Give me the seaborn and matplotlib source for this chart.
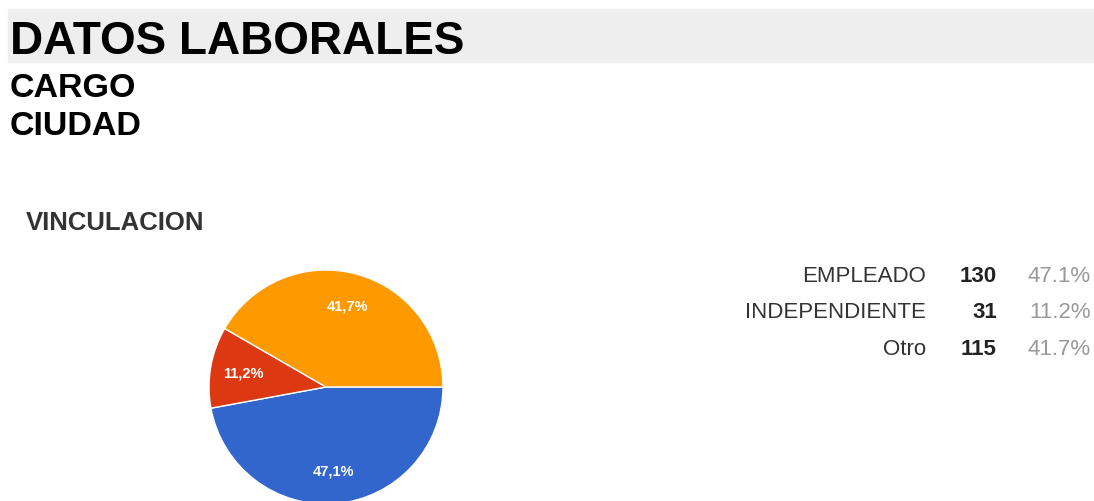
import matplotlib
matplotlib.use("Agg")
import matplotlib.pyplot as plt
import seaborn as sns
from matplotlib.patches import Rectangle

# datos del grafico
categorias = ["EMPLEADO", "INDEPENDIENTE", "Otro"]
cantidades = [130, 31, 115]
porcentajes = ["47.1%", "11.2%", "41.7%"]
colores = ["#3366cc", "#dc3912", "#ff9900"]

titulo = "DATOS LABORALES"
subtitulos = ["CARGO", "CIUDAD"]
pregunta = "VINCULACION"

sns.set_theme(style="white")
plt.rcParams['font.family'] = ['Liberation Sans', 'DejaVu Sans']

W, H = 1094, 502
fig = plt.figure(figsize=(W / 100, H / 100), dpi=100)

def fx(px):
    return px / W

def fy(py):
    return 1 - py / H

# banda gris del titulo
fig.patches.append(Rectangle((fx(8), fy(63)), fx(1086), 53 / H,
                             transform=fig.transFigure, color="#eeeeee", zorder=0))
fig.text(fx(10), fy(54), titulo, fontsize=33, fontweight="bold", color="black")
fig.text(fx(10), fy(97), subtitulos[0], fontsize=24.5, fontweight="bold", color="black")
fig.text(fx(10), fy(135), subtitulos[1], fontsize=24.5, fontweight="bold", color="black")
fig.text(fx(26), fy(230), pregunta, fontsize=18.5, fontweight="bold", color="#333333")

# torta
cx, cy, r = 326, 388, 117
ax = fig.add_axes([fx(cx - r), fy(cy + r), 2 * r / W, 2 * r / H])
wedges, texts, autotexts = ax.pie(
    cantidades, colors=colores, startangle=0, counterclock=False,
    autopct=lambda p: f"{p:.1f}%".replace(".", ","), pctdistance=0.72,
    wedgeprops=dict(edgecolor="white", linewidth=1),
    textprops=dict(color="white", fontsize=10.5, fontweight="bold"))
ax.set_xlim(-1, 1)
ax.set_ylim(-1, 1)
ax.set_aspect("equal")
ax.axis("off")

# leyenda tipo tabla
filas_y = [282, 318, 355]
for cat, n, pct, y in zip(categorias, cantidades, porcentajes, filas_y):
    fig.text(fx(926), fy(y), cat, fontsize=16, color="#333333", ha="right")
    fig.text(fx(997), fy(y), str(n), fontsize=16, fontweight="bold", color="#222222", ha="right")
    fig.text(fx(1091), fy(y), pct, fontsize=16, color="#999999", ha="right")

fig.savefig("out.png", dpi=100)
